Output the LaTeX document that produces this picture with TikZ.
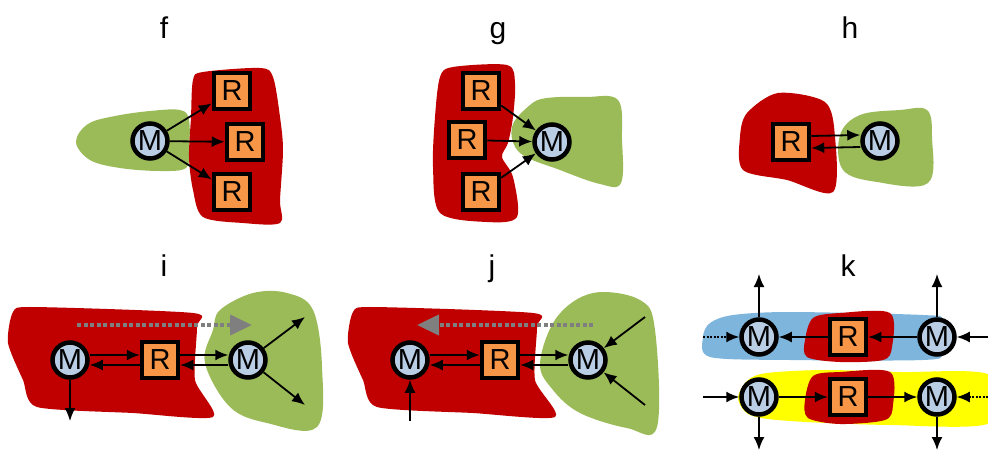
\documentclass[tikz,border=0pt]{standalone}
\usepackage{fontspec}
\setmainfont{Liberation Sans}
\usetikzlibrary{arrows.meta}
\definecolor{blobred}{HTML}{C00000}
\definecolor{blobgreen}{HTML}{9BBB59}
\definecolor{blobblue}{HTML}{7EB5DD}
\definecolor{blobyellow}{HTML}{FFFF00}
\definecolor{mfill}{HTML}{B9CDE5}
\definecolor{rfill}{HTML}{F79646}
\definecolor{movegray}{HTML}{7F7F7F}
\begin{document}
\begin{tikzpicture}[x=1pt,y=-1pt,
  mnode/.style={circle, fill=mfill, draw=black, line width=4.5pt, minimum size=35pt, inner sep=0pt, font=\fontsize{29}{29}\selectfont},
  rnode/.style={rectangle, fill=rfill, draw=black, line width=4.5pt, minimum size=36pt, inner sep=0pt, font=\fontsize{29}{29}\selectfont},
  conn/.style={line width=1.8pt, -{Latex[length=13pt,width=11pt]}},
  dotconn/.style={conn, dash pattern=on 2pt off 1.5pt},
  move/.style={draw=movegray, line width=4pt, dash pattern=on 4pt off 2.5pt, -{Triangle[length=22pt,width=20pt]}},
  lbl/.style={anchor=base, font=\fontsize{30}{30}\selectfont}]
\useasboundingbox (0,0) rectangle (988,450);

% labels
\node[lbl] (lf) at (164,38) {f};
\node[lbl] (lg) at (498,38) {g};
\node[lbl] (lh) at (850,38) {h};
\node[lbl] (li) at (164,276) {i};
\node[lbl] (lj) at (492,276) {j};
\node[lbl] (lk) at (848,276) {k};

% f
\fill[blobgreen] plot[smooth cycle, tension=0.6] coordinates {(76,142) (88,124) (115,116) (150,111) (180,110) (189,120) (189,150) (186,168) (160,171) (120,168) (90,160)};
\fill[blobred] plot[smooth cycle, tension=0.5] coordinates {(193,80) (203,72) (260,68) (273,77) (280,117) (283,150) (280,200) (280,223) (243,223) (203,217) (193,190) (189,157) (191,117)};
\node[mnode] (fM) at (150,141) {M};
\node[rnode] (fR1) at (232,91) {R};
\node[rnode] (fR2) at (245,142) {R};
\node[rnode] (fR3) at (232,192) {R};
\draw[conn] (fM) -- (fR1);
\draw[conn] (fM) -- (fR2);
\draw[conn] (fM) -- (fR3);

% g
\fill[blobgreen] plot[smooth cycle, tension=0.6] coordinates {(512,127) (530,105) (547,98) (585,97) (618,100) (622,140) (621,183) (600,184) (560,170) (520,153)};
\fill[blobred] plot[smooth cycle, tension=0.5] coordinates {(440,77) (453,67) (507,65) (515,83) (513,117) (508,143) (502,157) (513,177) (517,217) (487,222) (440,213) (433,167) (435,117)};
\node[mnode] (gM) at (552,142) {M};
\node[rnode] (gR1) at (481,91) {R};
\node[rnode] (gR2) at (467,140) {R};
\node[rnode] (gR3) at (481,192) {R};
\draw[conn] (gR1) -- (gM);
\draw[conn] (gR2) -- (gM);
\draw[conn] (gR3) -- (gM);

% h
\fill[blobgreen] plot[smooth cycle, tension=0.6] coordinates {(840,135) (860,115) (900,110) (927,110) (932,137) (928,183) (877,182) (843,170)};
\fill[blobred] plot[smooth cycle, tension=0.5] coordinates {(747,113) (778,93) (825,102) (835,137) (833,192) (787,180) (743,170) (740,137)};
\node[rnode] (hR) at (791,142) {R};
\node[mnode] (hM) at (880,141) {M};
\draw[conn] ([yshift=6pt]hR.east) -- ([yshift=6pt]hM.west);
\draw[conn] ([yshift=-6pt]hM.west) -- ([yshift=-6pt]hR.east);

% i
\fill[blobred] plot[smooth cycle, tension=0.4] coordinates {(13,312) (33,307) (193,313) (197,327) (195,380) (213,417) (133,413) (37,407) (23,380) (8,343)};
\fill[blobgreen] plot[smooth cycle, tension=0.6] coordinates {(220,310) (253,293) (287,293) (313,310) (322,367) (317,427) (267,423) (230,407) (205,363) (213,330)};
\node[mnode] (iM1) at (70,360) {M};
\node[rnode] (iR) at (160,360) {R};
\node[mnode] (iM2) at (248,360) {M};
\coordinate (iA) at (77,325);
\coordinate (iB) at (252,325);
\coordinate (iO1) at (305,317);
\coordinate (iO2) at (305,405);
\coordinate (iD) at (70,421);
\draw[move] (iA) -- (iB);
\draw[conn] ([yshift=5pt]iM1.east) -- ([yshift=5pt]iR.west);
\draw[conn] ([yshift=-5pt]iR.west) -- ([yshift=-5pt]iM1.east);
\draw[conn] ([yshift=5pt]iR.east) -- ([yshift=5pt]iM2.west);
\draw[conn] ([yshift=-5pt]iM2.west) -- ([yshift=-5pt]iR.east);
\draw[conn] (iM2) -- (iO1);
\draw[conn] (iM2) -- (iO2);
\draw[conn] (iM1) -- (iD);

% j
\fill[blobred] plot[smooth cycle, tension=0.4] coordinates {(353,312) (373,307) (533,313) (537,327) (535,380) (555,417) (473,413) (377,407) (363,380) (348,343)};
\fill[blobgreen] plot[smooth cycle, tension=0.6] coordinates {(557,317) (593,293) (640,300) (655,330) (657,427) (627,428) (580,413) (553,390) (540,363)};
\node[mnode] (jM1) at (410,360) {M};
\node[rnode] (jR) at (500,360) {R};
\node[mnode] (jM2) at (588,360) {M};
\coordinate (jA) at (593,325);
\coordinate (jB) at (417,325);
\coordinate (jI1) at (645,317);
\coordinate (jI2) at (645,405);
\coordinate (jU) at (410,421);
\draw[move] (jA) -- (jB);
\draw[conn] ([yshift=5pt]jM1.east) -- ([yshift=5pt]jR.west);
\draw[conn] ([yshift=-5pt]jR.west) -- ([yshift=-5pt]jM1.east);
\draw[conn] ([yshift=5pt]jR.east) -- ([yshift=5pt]jM2.west);
\draw[conn] ([yshift=-5pt]jM2.west) -- ([yshift=-5pt]jR.east);
\draw[conn] (jI1) -- (jM2);
\draw[conn] (jI2) -- (jM2);
\draw[conn] (jU) -- (jM1);

% k
\fill[blobblue] plot[smooth cycle, tension=0.5] coordinates {(703,337) (710,323) (733,315) (790,312) (923,315) (943,320) (943,353) (923,360) (790,360) (710,357)};
\fill[blobred] plot[smooth cycle, tension=0.5] coordinates {(805,340) (813,318) (840,313) (890,313) (892,347) (883,360) (840,362) (807,357)};
\fill[blobyellow] plot[smooth cycle, tension=0.5] coordinates {(738,398) (748,380) (767,373) (823,370) (900,372) (990,375) (990,423) (890,425) (790,421) (750,415)};
\fill[blobred] plot[smooth cycle, tension=0.5] coordinates {(805,400) (813,376) (840,372) (890,372) (893,405) (885,420) (840,424) (808,418)};
\node[mnode] (kM1) at (759,337) {M};
\node[rnode] (kR1) at (848,337) {R};
\node[mnode] (kM2) at (937,337) {M};
\node[mnode] (kM3) at (759,397) {M};
\node[rnode] (kR2) at (848,397) {R};
\node[mnode] (kM4) at (937,397) {M};
\coordinate (kU1) at (759,274);
\coordinate (kU2) at (937,274);
\coordinate (kL1) at (703,337);
\coordinate (kE1) at (988,337);
\coordinate (kL2) at (703,397);
\coordinate (kE2) at (988,397);
\coordinate (kD1) at (759,450);
\coordinate (kD2) at (937,450);
\draw[conn] (kM2) -- (kR1);
\draw[conn] (kR1) -- (kM1);
\draw[dotconn] (kL1) -- (kM1);
\draw[conn] (kE1) -- (kM2);
\draw[conn] (kM1) -- (kU1);
\draw[conn] (kM2) -- (kU2);
\draw[conn] (kL2) -- (kM3);
\draw[conn] (kM3) -- (kR2);
\draw[conn] (kR2) -- (kM4);
\draw[dotconn] (kE2) -- (kM4);
\draw[conn] (kM3) -- (kD1);
\draw[conn] (kM4) -- (kD2);
\end{tikzpicture}
\end{document}
